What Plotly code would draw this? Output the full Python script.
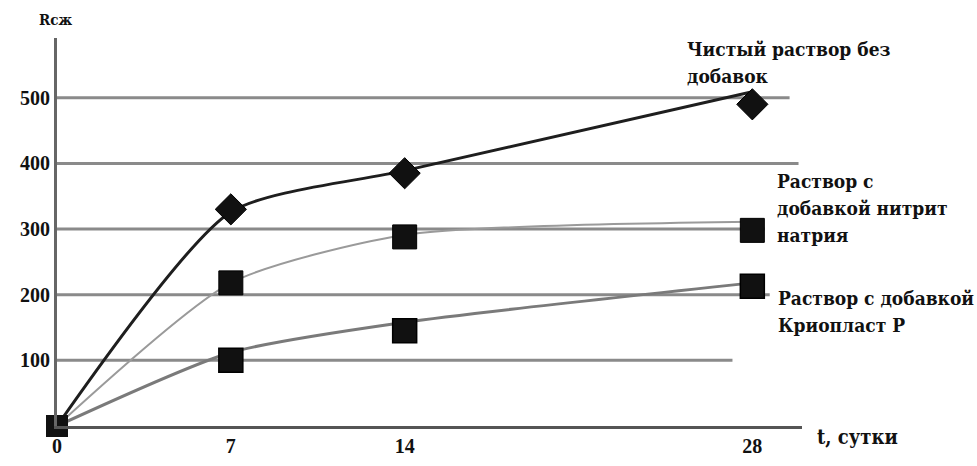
import plotly.graph_objects as go

# Data
days = [0, 7, 14, 28]
tick_text = ["0", "7", "14", "28"]
y_ticks = [100, 200, 300, 400, 500]

# marker values
pure = [0, 330, 385, 490]
nitrite = [0, 218, 288, 298]
cryo = [0, 100, 145, 213]

# smoothed trend lines as drawn
pure_line = [0, 326, 389, 509]
nitrite_line = [0, 218, 291, 311]
cryo_line = [0, 112, 158, 218]

names = ["Чистый раствор без добавок",
         "Раствор с добавкой нитрит натрия",
         "Раствор с добавкой Криопласт Р"]

# label lines as they are broken in the picture
label_lines = [["Чистый раствор без", "добавок"],
               ["Раствор с", "добавкой нитрит", "натрия"],
               ["Раствор с добавкой", "Криопласт Р"]]

FONT = "Liberation Serif, Times New Roman, serif"
CYR = "DejaVu Serif Condensed, DejaVu Serif, serif"

fig = go.Figure()

line_styles = [dict(color="#1e1e1e", width=3),
               dict(color="#9a9a9a", width=2),
               dict(color="#7a7a7a", width=3)]
for lv, st, nm in zip([pure_line, nitrite_line, cryo_line], line_styles, names):
    fig.add_trace(go.Scatter(x=days, y=lv, mode="lines", name=nm,
                             line=dict(shape="spline", smoothing=0.65, **st),
                             showlegend=False, cliponaxis=False, hoverinfo="skip"))

fig.add_trace(go.Scatter(x=days[1:], y=pure[1:], mode="markers", name=names[0],
                         marker=dict(symbol="diamond", size=24, color="#111",
                                     line=dict(color="#000", width=1)),
                         showlegend=False, cliponaxis=False))
fig.add_trace(go.Scatter(x=days[1:], y=nitrite[1:], mode="markers", name=names[1],
                         marker=dict(symbol="square", size=24, color="#111",
                                     line=dict(color="#000", width=1)),
                         showlegend=False, cliponaxis=False))
fig.add_trace(go.Scatter(x=days[1:], y=cryo[1:], mode="markers", name=names[2],
                         marker=dict(symbol="square", size=24, color="#111",
                                     line=dict(color="#000", width=1.5)),
                         showlegend=False, cliponaxis=False))
fig.add_trace(go.Scatter(x=[days[0]], y=[pure[0]], mode="markers", name="0",
                         marker=dict(symbol="square", size=22, color="#111"),
                         showlegend=False, cliponaxis=False))

# gridlines of unequal length, as in the original
grid_ends = [27.2, 28.7, 28.5, 29.86, 29.5]
shapes = []
for yv, xe in zip(y_ticks, grid_ends):
    shapes.append(dict(type="line", xref="x", yref="y", x0=0, x1=xe, y0=yv, y1=yv,
                       line=dict(color="#8a8a8a", width=3), layer="below"))

L, R, T, B = 57, 175, 38, 40
PW, PH = 977 - L - R, 466 - T - B

TXT = dict(family=CYR, size=19, color="#111", weight="bold")
label_pos = [(685, 49), (775, 181), (776, 298)]  # left px, first-line centre px
LINE_GAP = 27
annotations = []
for lines, (px, py) in zip(label_lines, label_pos):
    for i, ln in enumerate(lines):
        annotations.append(dict(x=(px - L) / PW, y=(466 - (py + i * LINE_GAP) - B) / PH,
                                xref="paper", yref="paper", xanchor="left",
                                yanchor="middle", text=ln, showarrow=False, font=TXT))
annotations.append(dict(x=(815 - L) / PW, y=(466 - 437 - B) / PH, xref="paper", yref="paper",
                        xanchor="left", yanchor="middle", text="t, сутки", showarrow=False,
                        font=dict(family=CYR, size=20, color="#111", weight="bold")))
annotations.append(dict(x=(37 - L) / PW, y=(466 - 20 - B) / PH, xref="paper", yref="paper",
                        xanchor="left", yanchor="middle", text="Rсж", showarrow=False,
                        font=dict(family=CYR, size=15, color="#111", weight="bold")))

fig.update_layout(
    width=977, height=466,
    margin=dict(l=L, r=R, t=T, b=B),
    paper_bgcolor="white", plot_bgcolor="white",
    showlegend=False,
    shapes=shapes,
    annotations=annotations,
    font=dict(family=FONT, size=20, color="#111"),
    xaxis=dict(range=[0, 30], tickvals=days, ticktext=tick_text, showgrid=False,
               zeroline=False, showline=True, linecolor="#555", linewidth=3,
               ticks="", automargin=False,
               tickfont=dict(family=FONT, size=20, color="#111", weight="bold")),
    yaxis=dict(range=[0, 591], tickvals=y_ticks, showgrid=False, zeroline=False,
               showline=True, linecolor="#666", linewidth=3, ticks="", automargin=False,
               tickfont=dict(family=FONT, size=20, color="#111", weight="bold")),
)

fig.write_html("out.html", config={"displayModeBar": False},
               post_script="document.body.style.margin='0px';")
